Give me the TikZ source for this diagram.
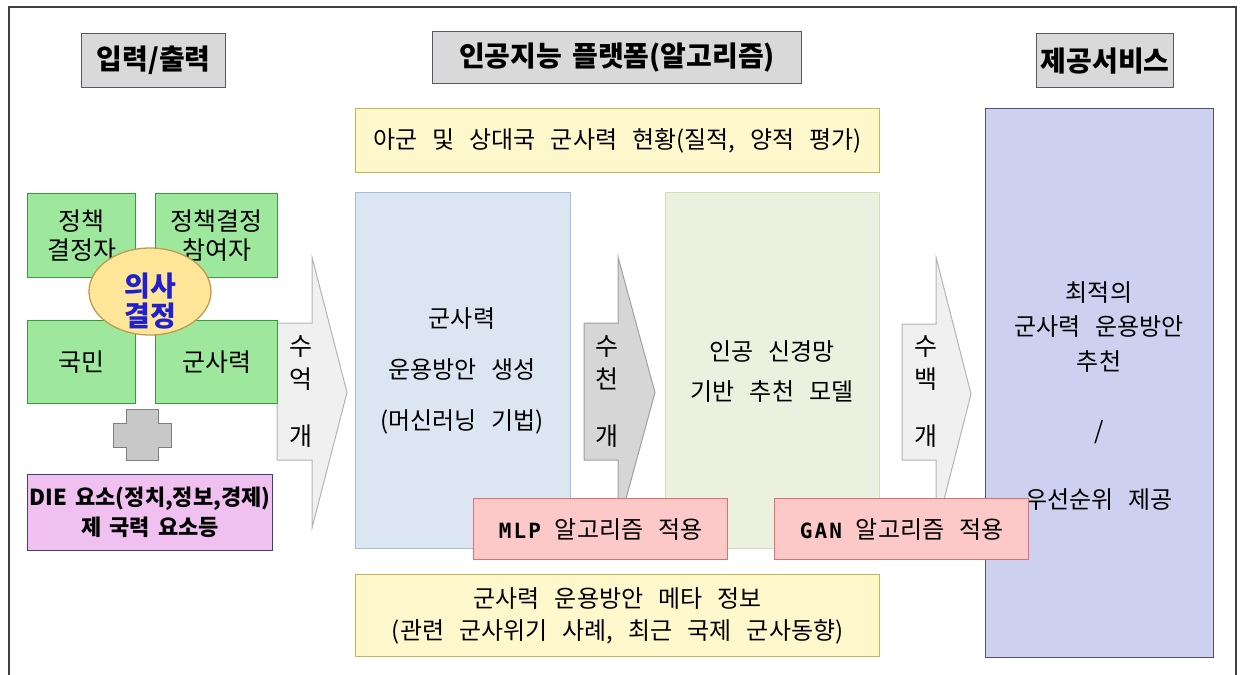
\documentclass[tikz,border=0pt]{standalone}
\usepackage{fontspec}
\setmainfont{Noto Sans CJK KR}[WordSpace=2.8]
\newfontfamily\hdfont{Noto Sans CJK KR}
\newfontfamily\diefont{Noto Sans CJK KR}[WordSpace=1.6]
\newfontfamily\monof{DejaVu Sans Mono}[LetterSpace=10]
\usetikzlibrary{shapes.geometric}
\definecolor{frameline}{HTML}{404040}
\definecolor{hdrfill}{HTML}{D9D9D9}
\definecolor{hdrline}{HTML}{565868}
\definecolor{yfill}{HTML}{FFF8CC}
\definecolor{yline}{HTML}{C8B450}
\definecolor{bfill}{HTML}{DCE6F2}
\definecolor{bline}{HTML}{A4BEDC}
\definecolor{gmfill}{HTML}{EBF1DE}
\definecolor{gmline}{HTML}{D4DEB8}
\definecolor{pfill}{HTML}{CDD0EF}
\definecolor{pline}{HTML}{505070}
\definecolor{rfill}{HTML}{FCC8C8}
\definecolor{rline}{HTML}{E07070}
\definecolor{gfill}{HTML}{9DE89D}
\definecolor{gline}{HTML}{3A9A3A}
\definecolor{efill}{HTML}{FFE699}
\definecolor{eline}{HTML}{BF9B50}
\definecolor{etext}{HTML}{2020CC}
\definecolor{xfill}{HTML}{C8C8C8}
\definecolor{xline}{HTML}{7F7F7F}
\definecolor{mfill}{HTML}{F0C0F0}
\definecolor{mline}{HTML}{3F3F7F}
\definecolor{a1fill}{HTML}{F0F0F0}
\definecolor{a1line}{HTML}{B4B4B4}
\definecolor{a2fill}{HTML}{D6D6D6}
\definecolor{a2line}{HTML}{A0A0A0}
\begin{document}
\begin{tikzpicture}[x=1pt,y=-1pt,
  boxbase/.style={rectangle, inner sep=0pt, anchor=north west, align=center, line width=1.3pt},
  hdr/.style={boxbase, draw=hdrline, fill=hdrfill, font=\hdfont\bfseries\fontsize{28}{32}\selectfont},
  ybox/.style={boxbase, draw=yline, fill=yfill, font=\fontsize{24}{32}\selectfont},
  bbox/.style={boxbase, draw=bline, fill=bfill},
  gmbox/.style={boxbase, draw=gmline, fill=gmfill},
  pbox/.style={boxbase, draw=pline, fill=pfill},
  rbox/.style={boxbase, draw=rline, fill=rfill, font=\fontsize{24}{28}\selectfont},
  gbox/.style={boxbase, draw=gline, fill=gfill, minimum width=108, minimum height=84, font=\fontsize{25}{29}\selectfont},
  txt/.style={align=center, inner sep=0pt, font=\fontsize{24}{29}\selectfont},
  arrtxt/.style={align=center, inner sep=0pt, font=\fontsize{25}{33}\selectfont},
  arr1/.style={fill=a1fill, draw=a1line, line width=1pt, line join=miter},
  arr2/.style={fill=a2fill, draw=a2line, line width=1pt, line join=miter}
]
\useasboundingbox (0,0) rectangle (1241,674);
% frame
\draw[frameline, line width=1.6pt] (9,676) -- (9,7) -- (1236,7) -- (1236,676);

% headers
\node[hdr, minimum width=144, minimum height=54] (io) at (81,33) {입력/출력};
\node[hdr, minimum width=369, minimum height=52] (ai) at (432,31) {인공지능 플랫폼(알고리즘)};
\node[hdr, minimum width=137, minimum height=54] (svc) at (1036,33) {제공서비스};

% platform boxes
\node[ybox, minimum width=524, minimum height=64] (cur) at (355,108) {아군 및 상대국 군사력 현황(질적, 양적 평가)};
\node[bbox, minimum width=215, minimum height=356] (gen) at (355,192) {};
\node[txt, font=\fontsize{24}{51}\selectfont] (gentxt) at (462,371) {군사력\\운용방안 생성\\(머신러닝 기법)};
\node[gmbox, minimum width=214, minimum height=356] (rec) at (665,192) {};
\node[txt, font=\fontsize{24}{40}\selectfont] (rectxt) at (772,372) {인공 신경망\\기반 추천 모델};
\node[ybox, minimum width=524, minimum height=82] (meta) at (355,574) {군사력 운용방안 메타 정보\\(관련 군사위기 사례, 최근 국제 군사동향)};

% service box
\node[pbox, minimum width=228, minimum height=549] (out) at (985,108) {};
\node[txt, font=\fontsize{24}{34.5}\selectfont] (outa) at (1099,327) {최적의\\군사력 운용방안\\추천};
\node[txt] (outb) at (1099,432) {/};
\node[txt] (outc) at (1099,500) {우선순위 제공};

% block arrows
\draw[arr1] (277,323) -- (312,323) -- (312,257) -- (347,392.5) -- (312,528) -- (312,460) -- (277,460) -- cycle;
\node[arrtxt] (a1) at (301,392) {수\\억\\[24pt]개};
\draw[arr2] (584,323) -- (618,323) -- (618,257) -- (655,392.5) -- (618,528) -- (618,460) -- (584,460) -- cycle;
\node[arrtxt] (a2) at (607,392) {수\\천\\[24pt]개};
\draw[arr1] (902,324) -- (936,324) -- (936,257) -- (971,394) -- (936,531) -- (936,460) -- (902,460) -- cycle;
\node[arrtxt] (a3) at (926,392) {수\\백\\[24pt]개};

% algorithm boxes
\node[rbox, minimum width=254, minimum height=61] (mlp) at (473,498) {{\monof\bfseries\fontsize{21}{24}\selectfont MLP}\hspace{14pt}알고리즘 적용};
\node[rbox, minimum width=254, minimum height=61] (gan) at (774,498) {{\monof\bfseries\fontsize{21}{24}\selectfont GAN}\hspace{14pt}알고리즘 적용};

% input side
\node[gbox] (g1) at (27,193) {정책\\결정자};
\node[gbox, minimum width=122] (g2) at (155,193) {정책결정\\참여자};
\node[gbox, minimum height=83] (g3) at (27,320) {국민};
\node[gbox, minimum width=122, minimum height=83] (g4) at (155,320) {군사력};
\node[ellipse, draw=eline, fill=efill, line width=1.3pt, minimum width=122, minimum height=87, inner sep=0pt] (dec) at (150,291.5) {};
\node[txt, text=etext, font=\bfseries\fontsize{28}{30}\selectfont] (dectxt) at (150,301) {의사\\결정};
\draw[fill=xfill, draw=xline, line width=1pt] (126,409) -- (158,409) -- (158,423) -- (171,423) -- (171,447) -- (158,447) -- (158,460) -- (126,460) -- (126,447) -- (113,447) -- (113,423) -- (126,423) -- cycle;
\node[boxbase, draw=mline, fill=mfill, minimum width=245, minimum height=76, font=\diefont\bfseries\fontsize{22}{30}\selectfont] (die) at (27,474) {DIE 요소(정치,정보,경제)\\제 국력 요소등};
\end{tikzpicture}
\end{document}
